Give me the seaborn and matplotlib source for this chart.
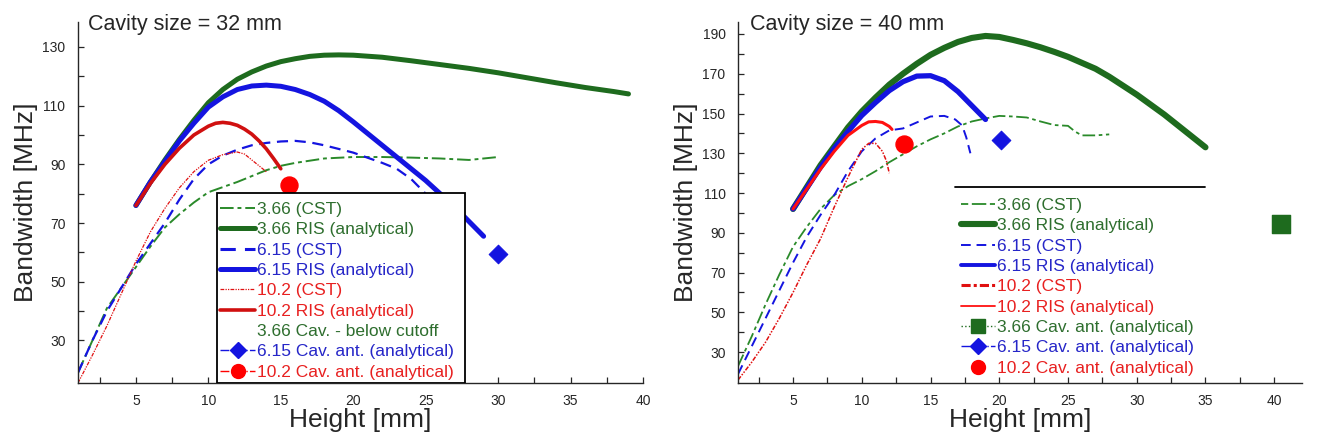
import numpy as np
import pandas as pd
import matplotlib
matplotlib.use('Agg')
import matplotlib.pyplot as plt
from matplotlib.lines import Line2D
from matplotlib.patches import Rectangle
import seaborn as sns

# ---- cavity size = 32 mm ----
h32_g_cst = [1, 2, 3, 4, 5, 6, 7, 8, 9, 10, 12, 14, 15, 16, 18, 20, 22, 24, 26, 28, 30]
bw32_g_cst = [19, 30, 41, 48, 55, 62, 68.5, 73, 77, 80.5, 84, 88, 89.5, 90.5, 92, 92.5, 92.5, 92.3, 92, 91.5, 92.5]
h32_b_cst = [1, 2, 3, 4, 5, 6, 7, 8, 9, 10, 11, 12, 13, 14, 15, 16, 17, 18, 20, 22, 23, 24, 25, 26]
bw32_b_cst = [19, 30, 40, 48, 56, 63, 70, 78, 85, 90, 93, 95, 96.5, 97.3, 97.8, 98, 97.5, 96.5, 94, 90.5, 88.5, 85, 80, 74]
h32_r_cst = [1, 2, 3, 4, 5, 6, 7, 8, 9, 10, 11, 12, 12.5, 13, 13.5, 14]
bw32_r_cst = [15.5, 25, 35, 46, 57, 67, 75, 82, 87.5, 91.4, 93.3, 94.2, 93.5, 91.5, 89.5, 87.5]
h32_g_ris = [5, 6, 7, 8, 9, 10, 11, 12, 13, 14, 15, 16, 17, 18, 19, 20, 22, 24, 26, 28, 30, 32, 34, 36, 38, 39]
bw32_g_ris = [76, 84, 91.5, 98.5, 105, 111, 115.5, 119, 121.5, 123.5, 125, 126, 126.8, 127.2, 127.3, 127.2,
              126.5, 125.3, 124, 122.7, 121.2, 119.5, 117.8, 116.2, 114.8, 114]
h32_b_ris = [5, 6, 7, 8, 9, 10, 11, 12, 13, 14, 15, 16, 17, 18, 19, 20, 21, 22, 23, 24, 25, 26, 27, 28, 29]
bw32_b_ris = [76, 84, 91, 98, 104, 109.5, 113, 115.5, 116.7, 117, 116.6, 115.5, 113.8, 111.5, 108.3, 104.5,
              100.5, 96.5, 92.5, 88.5, 84.5, 80, 75.5, 70.5, 65.5]
h32_r_ris = [5, 6, 7, 8, 9, 10, 10.5, 11, 11.5, 12, 12.5, 13, 13.5, 14, 14.5, 15]
bw32_r_ris = [76, 83.5, 90, 95.5, 100, 103, 104, 104.3, 104, 103.3, 102, 100.3, 98, 95.3, 92, 88.5]
h32_b_cav, bw32_b_cav = [30], [59.5]
h32_r_cav, bw32_r_cav = [15.6], [83]

# ---- cavity size = 40 mm ----
h40_g_cst = [1, 2, 3, 4, 5, 6, 7, 8, 9, 10, 11, 12, 13, 14, 15, 16, 17, 18, 19, 20, 21, 22, 23, 24, 25, 25.5, 26, 27, 28]
bw40_g_cst = [23, 38, 54, 69, 83, 93, 102, 109, 113.5, 117, 121, 125.5, 129.5, 133.5, 137, 140, 143.5, 146,
              147.5, 148.8, 148.5, 148, 146, 144.2, 143.8, 141, 139, 139, 139.5]
h40_b_cst = [1, 2, 3, 4, 5, 6, 7, 8, 9, 10, 11, 12, 13, 14, 15, 16, 16.8, 17.3, 17.6, 17.9]
bw40_b_cst = [19, 33, 47, 61, 75, 88, 99, 109, 121, 131, 137.5, 141.5, 142.5, 145.5, 148.5, 148.8, 147, 144, 138, 130]
h40_r_cst = [1, 2, 3, 4, 5, 6, 7, 8, 9, 10, 10.5, 11, 11.5, 11.8, 12]
bw40_r_cst = [16, 25, 35, 47, 60, 74, 87, 103, 118, 132, 135, 135, 131, 126, 120]
h40_g_ris = [5, 6, 7, 8, 9, 10, 11, 12, 13, 14, 15, 16, 17, 18, 19, 20, 21, 22, 23, 24, 25, 26, 27, 28, 29,
             30, 31, 32, 33, 34, 35]
bw40_g_ris = [102, 113, 124, 133.5, 143, 151, 158, 164.5, 170, 175, 179.5, 183, 186, 188, 189, 188.5, 187,
              185.3, 183.3, 181, 178.5, 175.5, 172.5, 168.5, 164, 159.5, 154.5, 149.5, 144, 138.5, 133]
h40_b_ris = [5, 6, 7, 8, 9, 10, 11, 12, 13, 14, 15, 16, 17, 18, 19]
bw40_b_ris = [102, 112.5, 123, 132.5, 141, 149, 155.5, 161.5, 166, 168.8, 169, 166.5, 161, 154, 147]
h40_r_ris = [5, 6, 7, 8, 9, 10, 10.5, 11, 11.5, 12, 12.2]
bw40_r_ris = [102, 112, 122, 131, 139, 144, 145.8, 146, 145.5, 143.5, 142]
h40_g_cav, bw40_g_cav = [40.5], [94.3]
h40_b_cav, bw40_b_cav = [20.1], [136.5]
h40_r_cav, bw40_r_cav = [13.1], [134.6]

labels32 = ['3.66 (CST)', '3.66 RIS (analytical)', '6.15 (CST)', '6.15 RIS (analytical)', '10.2 (CST)',
            '10.2 RIS (analytical)', '3.66 Cav. - below cutoff', '6.15 Cav. ant. (analytical)',
            '10.2 Cav. ant. (analytical)']
labels40 = ['3.66 (CST)', '3.66 RIS (analytical)', '6.15 (CST)', '6.15 RIS (analytical)', '10.2 (CST)',
            '10.2 RIS (analytical)', '3.66 Cav. ant. (analytical)', '6.15 Cav. ant. (analytical)',
            '10.2 Cav. ant. (analytical)']

GREEN = '#1e6b1e'
GREEN2 = '#2a8a2a'
BLUE = '#1414e0'
RED = '#e01010'
TGREEN = '#2e6e2e'
TBLUE = '#2626c8'
TRED = '#e82020'

sns.set_style('ticks')
plt.rcParams['font.family'] = ['Liberation Sans', 'DejaVu Sans']

fig = plt.figure(figsize=(13.17, 4.37), dpi=100)
ax1 = fig.add_axes([0.0592, 0.1236, 0.429, 0.826])
ax2 = fig.add_axes([0.5604, 0.1236, 0.428, 0.826])

ls_g = (0, (7, 2, 2, 2))
ls_b = (0, (5, 3))
ls_r = (0, (3, 1, 1, 1, 1, 1))


def line(ax, x, y, color, lw, ls='-'):
    sns.lineplot(x=x, y=y, ax=ax, color=color, lw=lw, linestyle=ls, sort=False, estimator=None)


# left panel
line(ax1, h32_g_cst, bw32_g_cst, GREEN2, 1.4, ls_g)
line(ax1, h32_b_cst, bw32_b_cst, BLUE, 1.6, ls_b)
line(ax1, h32_r_cst, bw32_r_cst, RED, 0.9, ls_r)
line(ax1, h32_g_ris, bw32_g_ris, GREEN, 3.6)
line(ax1, h32_b_ris, bw32_b_ris, BLUE, 3.6)
line(ax1, h32_r_ris, bw32_r_ris, '#d01010', 2.6)
sns.scatterplot(x=h32_b_cav, y=bw32_b_cav, ax=ax1, marker='D', s=90, color=BLUE, edgecolor=BLUE, zorder=5)
sns.scatterplot(x=h32_r_cav, y=bw32_r_cav, ax=ax1, marker='o', s=150, color='#ff0000', edgecolor='#ff0000', zorder=5)

# right panel
line(ax2, h40_g_cst, bw40_g_cst, GREEN2, 1.3, ls_g)
line(ax2, h40_b_cst, bw40_b_cst, BLUE, 1.4, ls_b)
line(ax2, h40_r_cst, bw40_r_cst, RED, 1.1, ls_r)
line(ax2, h40_g_ris, bw40_g_ris, GREEN, 4.4)
line(ax2, h40_b_ris, bw40_b_ris, BLUE, 3.8)
line(ax2, h40_r_ris, bw40_r_ris, '#ff1010', 2.2)
sns.scatterplot(x=h40_g_cav, y=bw40_g_cav, ax=ax2, marker='s', s=170, color=GREEN, edgecolor=GREEN, zorder=5)
sns.scatterplot(x=h40_b_cav, y=bw40_b_cav, ax=ax2, marker='D', s=90, color=BLUE, edgecolor=BLUE, zorder=5)
sns.scatterplot(x=h40_r_cav, y=bw40_r_cav, ax=ax2, marker='o', s=150, color='#ff0000', edgecolor='#ff0000', zorder=5)

ax1.set_xlim(1, 40)
ax1.set_ylim(15.5, 138.5)
ax1.set_yticks([30, 50, 70, 90, 110, 130])
ax1.set_yticks([40, 60, 80, 100, 120], minor=True)
ax2.set_xlim(1, 42)
ax2.set_ylim(14.5, 196)
ax2.set_yticks([30, 50, 70, 90, 110, 130, 150, 170, 190])
ax2.set_yticks([40, 60, 80, 100, 120, 140, 160, 180], minor=True)
for ax in (ax1, ax2):
    ax.set_xticks([5, 10, 15, 20, 25, 30, 35, 40])
    ax.set_xticks(np.arange(2.5, 41, 5), minor=True)
    ax.tick_params(which='both', direction='in', length=4, width=0.9, labelsize=10)
    ax.tick_params(axis='y', pad=9)
    ax.tick_params(axis='x', pad=8)
    sns.despine(ax=ax)
    ax.spines['left'].set_linewidth(1.0)
    ax.spines['bottom'].set_linewidth(1.0)
    ax.set_xlabel('Height [mm]', fontsize=19, labelpad=0)
    ax.set_ylabel('Bandwidth [MHz]', fontsize=19, labelpad=3)

ax1.text(0.018, 1.022, 'Cavity size = 32 mm', transform=ax1.transAxes, fontsize=15.5, va='top', ha='left')
ax2.text(0.022, 1.022, 'Cavity size = 40 mm', transform=ax2.transAxes, fontsize=15.5, va='top', ha='left')

# legend box (left) and rule (right)
ax1.add_patch(Rectangle((0.2455, 0), 0.4395, 0.527, transform=ax1.transAxes, facecolor='white',
                        edgecolor='black', lw=1.3, zorder=8))
ax2.plot([0.385, 0.828], [0.544, 0.544], transform=ax2.transAxes, color='black', lw=1.3, zorder=8)

h_left = [Line2D([], [], color=GREEN2, lw=1.4, ls=ls_g),
          Line2D([], [], color=GREEN, lw=3.6),
          Line2D([], [], color=BLUE, lw=2.2, ls=ls_b),
          Line2D([], [], color=BLUE, lw=3.6),
          Line2D([], [], color=RED, lw=0.9, ls=ls_r),
          Line2D([], [], color='#d01010', lw=2.6),
          Line2D([], [], color='none', lw=0),
          Line2D([], [], color=BLUE, lw=1, ls='-.', marker='D', ms=8),
          Line2D([], [], color='#ff0000', lw=1, ls='-.', marker='o', ms=10)]
h_right = [Line2D([], [], color=GREEN2, lw=1.3, ls=(0, (4, 2, 8, 2))),
           Line2D([], [], color=GREEN, lw=4.4),
           Line2D([], [], color=BLUE, lw=1.4, ls=ls_b),
           Line2D([], [], color=BLUE, lw=2.8),
           Line2D([], [], color=RED, lw=2.2, ls=(0, (3, 1, 1, 1))),
           Line2D([], [], color='#ff1010', lw=1.3),
           Line2D([], [], color=GREEN, lw=1, ls=':', marker='s', ms=10),
           Line2D([], [], color=BLUE, lw=1, ls='-.', marker='D', ms=8),
           Line2D([], [], color='#ff0000', lw=0, marker='o', ms=10)]
text_cols = [TGREEN, TGREEN, TBLUE, TBLUE, TRED, TRED, TGREEN, TBLUE, TRED]

leg1 = ax1.legend(h_left, labels32, loc='upper left', bbox_to_anchor=(0.252, 0.502), frameon=False,
                  fontsize=12.5, labelspacing=0.3, handlelength=2.0, handletextpad=0.1,
                  borderpad=0, borderaxespad=0, labelcolor=text_cols)
leg1.set_zorder(10)
leg2 = ax2.legend(h_right, labels40, loc='upper left', bbox_to_anchor=(0.395, 0.513), frameon=False,
                  fontsize=12.5, labelspacing=0.3, handlelength=2.0, handletextpad=0.1,
                  borderpad=0, borderaxespad=0, labelcolor=text_cols)
leg2.set_zorder(10)

fig.savefig('out.png', dpi=100)
